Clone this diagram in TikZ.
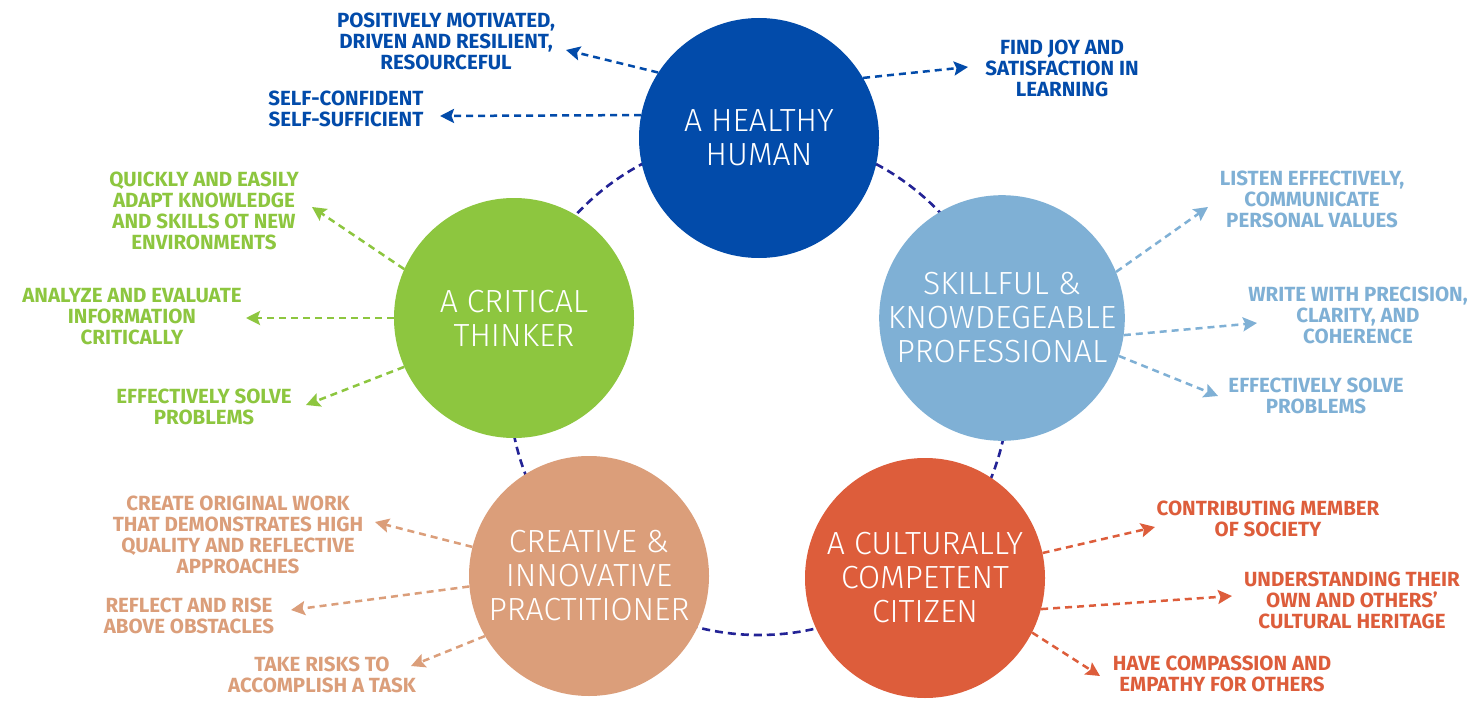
\documentclass[tikz,border=0pt]{standalone}
\usepackage{fontspec}
\setmainfont{Fira Sans}
\newfontfamily\lightfont{Fira Sans Light}
\newfontfamily\lblfont{Fira Sans}
\usetikzlibrary{arrows.meta}
\definecolor{cblue}{RGB}{2,75,170}
\definecolor{cgreen}{RGB}{141,198,63}
\definecolor{clight}{RGB}{127,176,213}
\definecolor{ctan}{RGB}{219,158,122}
\definecolor{corange}{RGB}{221,93,59}
\definecolor{cring}{RGB}{35,35,150}
\tikzset{
  bigcirc/.style={circle, minimum size=240pt, inner sep=0pt, text=white, align=center,
    font=\lightfont\fontsize{32}{34}\selectfont},
  lbl/.style={align=center, inner sep=0pt, font=\lblfont\bfseries\fontsize{20.5}{21}\selectfont},
  arr/.style={line width=2.5pt, dash pattern=on 7pt off 5pt, -{Stealth[length=14pt,width=14pt,inset=2.5pt]}},
  ringline/.style={line width=2.6pt, cring, dash pattern=on 8pt off 5pt}
}
\begin{document}
\begin{tikzpicture}[x=1pt,y=-1pt]
\useasboundingbox (0,0) rectangle (1476,701);
\fill[white] (0,0) rectangle (1476,701);
\draw[ringline] (759,385) circle[radius=250];

\node[bigcirc, fill=cblue] (hh) at (759,138) {A HEALTHY\\HUMAN};
\node[bigcirc, fill=cgreen] (ct) at (514,318) {A CRITICAL\\THINKER};
\node[bigcirc, fill=clight] (sk) at (1002,318) {SKILLFUL \&\\KNOWDEGEABLE\\PROFESSIONAL};
\node[bigcirc, fill=ctan] (cr) at (589,576) {CREATIVE \&\\INNOVATIVE\\PRACTITIONER};
\node[bigcirc, fill=corange] (cc) at (925,578) {A CULTURALLY\\COMPETENT\\CITIZEN};

% Healthy human labels
\node[lbl, text=cblue] (h1) at (446,41) {POSITIVELY MOTIVATED,\\DRIVEN AND RESILIENT,\\RESOURCEFUL};
\node[lbl, text=cblue] (h2) at (346,109) {SELF-CONFIDENT\\SELF-SUFFICIENT};
\node[lbl, text=cblue] (h3) at (1062,68) {FIND JOY AND\\SATISFACTION IN\\LEARNING};
\coordinate (h1e) at (566,50);
\coordinate (h2e) at (440,116);
\coordinate (h3e) at (968,67);
\draw[arr, cblue] (hh.147.6) -- (h1e);
\draw[arr, cblue] (hh.169.5) -- (h2e);
\draw[arr, cblue] (hh.30.2) -- (h3e);

% Critical thinker labels
\node[lbl, text=cgreen] (c1) at (204,211) {QUICKLY AND EASILY\\ADAPT KNOWLEDGE\\AND SKILLS OT NEW\\ENVIRONMENTS};
\node[lbl, text=cgreen] (c2) at (132,317) {ANALYZE AND EVALUATE\\INFORMATION\\CRITICALLY};
\node[lbl, text=cgreen] (c3) at (204,407) {EFFECTIVELY SOLVE\\PROBLEMS};
\coordinate (c1e) at (312,207);
\coordinate (c2e) at (246,318);
\coordinate (c3e) at (306,405);
\draw[arr, cgreen] (ct.156.4) -- (c1e);
\draw[arr, cgreen] (ct.180) -- (c2e);
\draw[arr, cgreen] (ct.204.4) -- (c3e);

% Skillful labels
\node[lbl, text=clight] (s1) at (1312,199) {LISTEN EFFECTIVELY,\\COMMUNICATE\\PERSONAL VALUES};
\node[lbl, text=clight] (s2) at (1358,315) {WRITE WITH PRECISION,\\CLARITY, AND\\COHERENCE};
\node[lbl, text=clight] (s3) at (1316,396) {EFFECTIVELY SOLVE\\PROBLEMS};
\coordinate (s1e) at (1208,207);
\coordinate (s2e) at (1257,323);
\coordinate (s3e) at (1218,396);
\draw[arr, clight] (sk.22.5) -- (s1e);
\draw[arr, clight] (sk.352.8) -- (s2e);
\draw[arr, clight] (sk.342.2) -- (s3e);

% Creative labels
\node[lbl, text=ctan] (r1) at (238,535) {CREATE ORIGINAL WORK\\THAT DEMONSTRATES HIGH\\QUALITY AND REFLECTIVE\\APPROACHES};
\node[lbl, text=ctan] (r2) at (189,616) {REFLECT AND RISE\\ABOVE OBSTACLES};
\node[lbl, text=ctan] (r3) at (322,675) {TAKE RISKS TO\\ACCOMPLISH A TASK};
\coordinate (r1e) at (375,522);
\coordinate (r2e) at (291,610);
\coordinate (r3e) at (411,666);
\draw[arr, ctan] (cr.166.3) -- (r1e);
\draw[arr, ctan] (cr.185.8) -- (r2e);
\draw[arr, ctan] (cr.210.6) -- (r3e);

% Culturally labels
\node[lbl, text=corange] (u1) at (1268,519) {CONTRIBUTING MEMBER\\OF SOCIETY};
\node[lbl, text=corange] (u2) at (1352,600) {UNDERSTANDING THEIR\\OWN AND OTHERS’\\CULTURAL HERITAGE};
\node[lbl, text=corange] (u3) at (1222,674) {HAVE COMPASSION AND\\EMPATHY FOR OTHERS};
\coordinate (u1e) at (1155,527);
\coordinate (u2e) at (1232,596);
\coordinate (u3e) at (1100,676);
\draw[arr, corange] (cc.12.2) -- (u1e);
\draw[arr, corange] (cc.345.6) -- (u2e);
\draw[arr, corange] (cc.333) -- (u3e);
\end{tikzpicture}
\end{document}
